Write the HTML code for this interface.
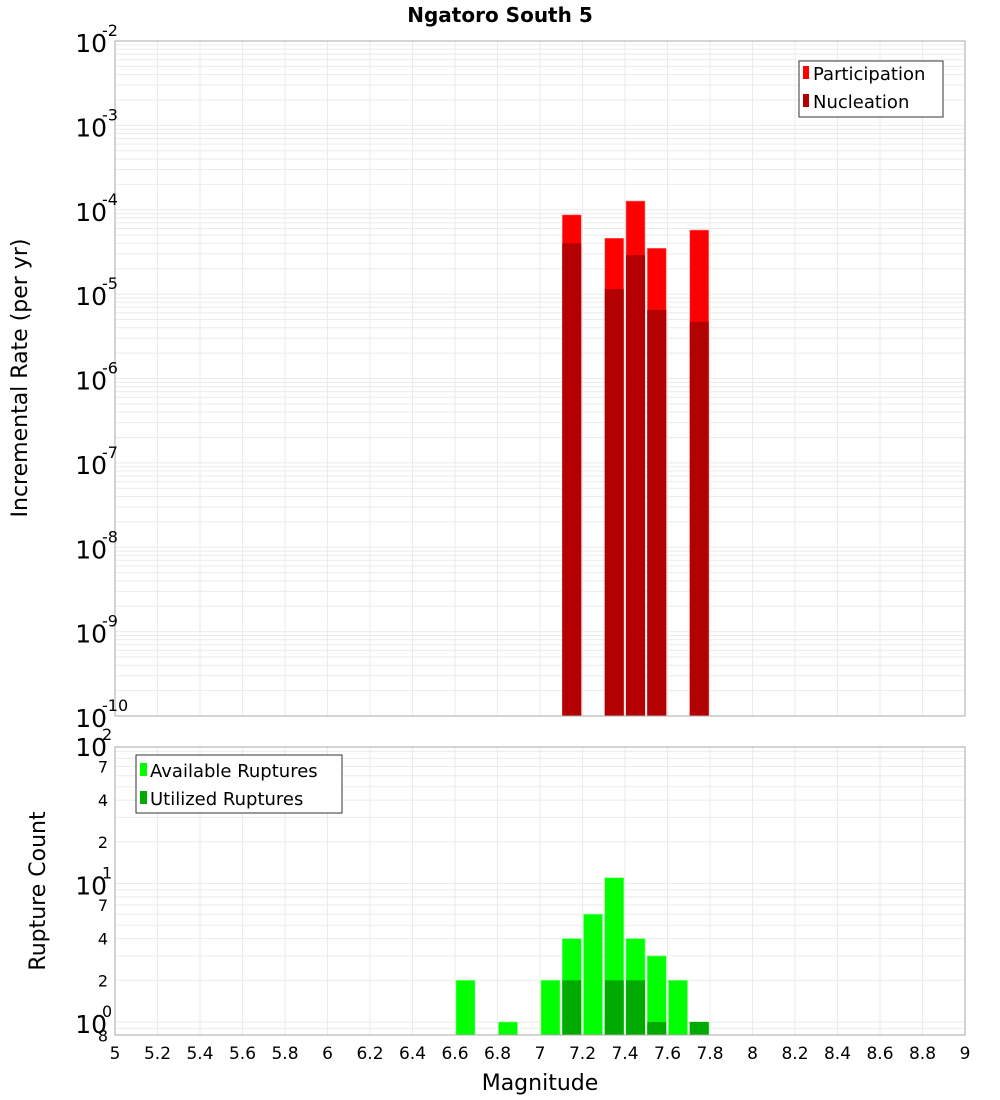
<!DOCTYPE html>
<html><head><meta charset="utf-8"><style>
body{margin:0;background:#fff;}
svg{display:block;font-family:"DejaVu Sans","Liberation Sans",sans-serif;}
</style></head><body>
<svg id="chart" width="1000" height="1100" xmlns="http://www.w3.org/2000/svg">
<text x="500" y="22" text-anchor="middle" font-size="20" font-weight="bold">Ngatoro South 5</text>
<text transform="translate(27,378) rotate(-90)" text-anchor="middle" font-size="22">Incremental Rate (per yr)</text>
<text transform="translate(45,891) rotate(-90)" text-anchor="middle" font-size="22">Rupture Count</text>
<text x="540" y="1090" text-anchor="middle" font-size="22">Magnitude</text>
<g id="topG"></g><g id="botG"></g>
<g>
<rect x="799" y="61" width="144" height="56" fill="#fff" stroke="#333"/>
<rect x="803" y="66" width="6" height="13" fill="#ff0000"/>
<text x="813" y="80" font-size="18">Participation</text>
<rect x="803" y="94" width="6" height="13" fill="#b30000"/>
<text x="813" y="108" font-size="18">Nucleation</text>
</g>
<g>
<rect x="136" y="755" width="206" height="58" fill="#fff" stroke="#333"/>
<rect x="140" y="763" width="7" height="13" fill="#00ff00"/>
<text x="150" y="777" font-size="18">Available Ruptures</text>
<rect x="140" y="791" width="7" height="13" fill="#00aa00"/>
<text x="150" y="805" font-size="18">Utilized Ruptures</text>
</g>
</svg>
<script>
const mags=[7.15,7.35,7.45,7.55,7.75];
const participation=[8.7e-5,4.6e-5,1.27e-4,3.5e-5,5.75e-5];
const nucleation=[4.0e-5,1.15e-5,2.9e-5,6.5e-6,4.7e-6];
const availMags=[6.65,6.85,7.05,7.15,7.25,7.35,7.45,7.55,7.65,7.75];
const availCounts=[2,1,2,4,6,11,4,3,2,1];
const utilMags=[7.15,7.35,7.45,7.55,7.75];
const utilCounts=[2,2,2,1,1];
const xTicks=[5,5.2,5.4,5.6,5.8,6,6.2,6.4,6.6,6.8,7,7.2,7.4,7.6,7.8,8,8.2,8.4,8.6,8.8,9];
const topExps=[-2,-3,-4,-5,-6,-7,-8,-9,-10];
const botMinor=[2,4,7,20,40,70];

const NS="http://www.w3.org/2000/svg";
const X0=115,X1=965;
const xs=m=>X0+(m-5)/4*(X1-X0);
const TY0=41,TY1=716;
const ty=v=>TY0+(-2-Math.log10(v))*(TY1-TY0)/8;
const BY0=747,BY1=1035;
const by=v=>1022-Math.log10(v)*138.5;
function el(p,t,a){const e=document.createElementNS(NS,t);for(const k in a)e.setAttribute(k,a[k]);p.appendChild(e);return e;}
const topG=document.getElementById('topG'),botG=document.getElementById('botG');

el(topG,'rect',{x:X0,y:TY0,width:X1-X0,height:TY1-TY0,fill:'#fff'});
for(let d=-10;d<-2;d++)for(let k=1;k<10;k++){const y=ty(k*Math.pow(10,d));if(y<TY0||y>TY1)continue;
 const g=el(topG,'line',{x1:X0,x2:X1,y1:y,y2:y,stroke:'#ebebeb','stroke-width':1});
 
 }
xTicks.forEach(m=>{const l=el(topG,'line',{x1:xs(m),x2:xs(m),y1:TY0,y2:TY1,stroke:'#ebebeb'});
 
 });
mags.forEach((m,i)=>{const x=xs(m-0.05)+1,w=19;
 const p=el(topG,'rect',{x:x,y:ty(participation[i]),width:w,height:TY1-ty(participation[i]),fill:'#ff0000',stroke:'#ff9090','stroke-width':0.6});
 
 
 const n=el(topG,'rect',{x:x,y:ty(nucleation[i]),width:w,height:TY1-ty(nucleation[i]),fill:'#b30000'});
 
 });
el(topG,'rect',{x:X0,y:TY0,width:X1-X0,height:TY1-TY0,fill:'none',stroke:'#aaa'});
topExps.forEach(e=>{const y=ty(Math.pow(10,e));
 const t=el(topG,'text',{x:107,y:y+11,'text-anchor':'end','font-size':25});t.textContent='10';
 
 
 const s=el(topG,'text',{x:102,y:y-5,'font-size':16});s.textContent=String(e);
 
 });

el(botG,'rect',{x:X0,y:BY0,width:X1-X0,height:BY1-BY0,fill:'#fff'});
[0.8,0.9,1,2,3,4,5,6,7,8,9,10,20,30,40,50,60,70,80,90].forEach(v=>{const y=by(v);if(y<BY0||y>BY1)return;
 const g=el(botG,'line',{x1:X0,x2:X1,y1:y,y2:y,stroke:'#ebebeb'});
 
 });
xTicks.forEach(m=>{const l=el(botG,'line',{x1:xs(m),x2:xs(m),y1:BY0,y2:BY1,stroke:'#ebebeb'});
 
 });
availMags.forEach((m,i)=>{const r=el(botG,'rect',{x:xs(m-0.05)+1,y:by(availCounts[i]),width:19,height:BY1-by(availCounts[i]),fill:'#00ff00',stroke:'#80ff80','stroke-width':0.6});
 
 });
utilMags.forEach((m,i)=>{const r=el(botG,'rect',{x:xs(m-0.05)+1,y:by(utilCounts[i]),width:19,height:BY1-by(utilCounts[i]),fill:'#00aa00'});
 
 });
el(botG,'rect',{x:X0,y:BY0,width:X1-X0,height:BY1-BY0,fill:'none',stroke:'#aaa'});
[[1,'0'],[10,'1'],[100,'2']].forEach(([v,e])=>{const y=by(v);
 const t=el(botG,'text',{x:107,y:y+11,'text-anchor':'end','font-size':25});t.textContent='10';
 
 
 const s=el(botG,'text',{x:102,y:y-5,'font-size':16});s.textContent=e;
 
 });
botMinor.concat([0.8]).forEach(v=>{const y=by(v);
 const t=el(botG,'text',{x:108,y:y+6,'text-anchor':'end','font-size':16});t.textContent=v>=10?String(v/10):(v<1?String(v*10):String(v));
 
 });
xTicks.forEach(m=>{const t=el(botG,'text',{x:xs(m),y:1059,'text-anchor':'middle','font-size':17});
 t.textContent=String(Math.round(m*10)/10);
 
 });
</script>
</body></html>
